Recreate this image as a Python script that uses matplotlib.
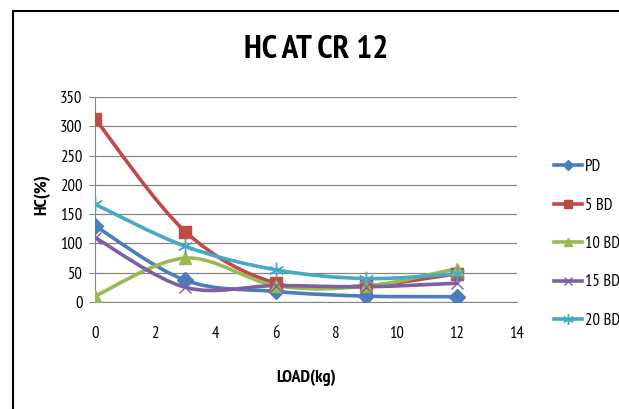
import numpy as np
import matplotlib
matplotlib.use('Agg')
import matplotlib.pyplot as plt
from matplotlib.path import Path
from matplotlib.patches import PathPatch, Rectangle
from matplotlib.lines import Line2D
from matplotlib import font_manager

# data
load = [0, 3, 6, 9, 12]
pd_hc = [130, 37, 18, 10, 9]
bd5 = [313, 120, 32, 28, 48]
bd10 = [10, 75, 28, 27, 57]
bd15 = [110, 25, 28, 26, 32]
bd20 = [167, 95, 55, 40, 48]

series = [('PD', pd_hc, '#4A7EBB', 'D', 8),
          ('5 BD', bd5, '#BE4B48', 's', 9),
          ('10 BD', bd10, '#98B954', '^', 9),
          ('15 BD', bd15, '#7D60A0', 'x', 9),
          ('20 BD', bd20, '#46AAC5', (6, 2, 0), 11)]

names = {f.name for f in font_manager.fontManager.ttflist}
fam = 'DejaVu Sans'
for cand in ['PT Sans Narrow', 'Fira Sans Condensed', 'Roboto Condensed', 'Carlito']:
    if cand in names:
        fam = cand
        break
plt.rcParams['font.family'] = [fam, 'DejaVu Sans']


def smooth_path(x, y):
    # excel-style smoothed line as cubic bezier pieces
    pts = np.column_stack([x, y]).astype(float)
    n = len(pts)
    verts = [pts[0]]
    codes = [Path.MOVETO]
    for i in range(n - 1):
        p0 = pts[i - 1] if i > 0 else pts[i]
        p1 = pts[i]
        p2 = pts[i + 1]
        p3 = pts[i + 2] if i + 2 < n else pts[i + 1]
        c1 = p1 + (p2 - p0) / 6
        c2 = p2 - (p3 - p1) / 6
        verts += [c1, c2, p2]
        codes += [Path.CURVE4] * 3
    return Path(verts, codes)


fig = plt.figure(figsize=(6.19, 4.09), dpi=100)
fig.patches.append(Rectangle((12.5 / 619, -0.1), 1.2, 1 - 11 / 409 + 0.1, transform=fig.transFigure,
                             fill=False, edgecolor='black', lw=1.5))
ax = fig.add_axes([95 / 619, 1 - 302 / 409, 422 / 619, 205 / 409])

handles = []
for name, vals, col, mk, ms in series:
    ax.add_patch(PathPatch(smooth_path(load, vals), facecolor='none', edgecolor=col, lw=2.6,
                           capstyle='round', joinstyle='round', zorder=3))
    ax.plot(load, vals, linestyle='none', marker=mk, color=col, markersize=ms,
            markeredgewidth=1, zorder=4)
    handles.append(Line2D([], [], color=col, lw=2.6, marker=mk, markersize=ms * 0.7, markeredgewidth=1))

ax.set_xlim(0, 14)
ax.set_ylim(0, 350)
ax.set_xticks(range(0, 15, 2))
ax.set_yticks(range(0, 351, 50))
ax.yaxis.grid(True, color='#868686', lw=0.9)
ax.set_axisbelow(True)
for s in ['top', 'right']:
    ax.spines[s].set_visible(False)
ax.spines['left'].set_color('#868686')
ax.spines['bottom'].set_color('#868686')
ax.tick_params(axis='y', length=4, color='#868686', labelsize=12, pad=5)
ax.tick_params(axis='x', length=0, labelsize=12, pad=17)

fig.text(316 / 619, 1 - 50 / 409, 'HC AT CR 12', ha='center', va='center', fontsize=24, fontweight='bold')
fig.text(42 / 619, 1 - 195 / 409, 'HC(%)', ha='center', va='center', rotation=90, fontsize=13, fontweight='bold')
fig.text(306 / 619, 1 - 378 / 409, 'LOAD(kg)', ha='center', va='center', fontsize=13, fontweight='bold')

fig.legend(handles, [s[0] for s in series], loc='center left', bbox_to_anchor=(539 / 619, 1 - 244 / 409),
           frameon=False, fontsize=12, labelspacing=1.35, handlelength=1.7, handletextpad=0.15)

fig.savefig('out.png', dpi=100)
